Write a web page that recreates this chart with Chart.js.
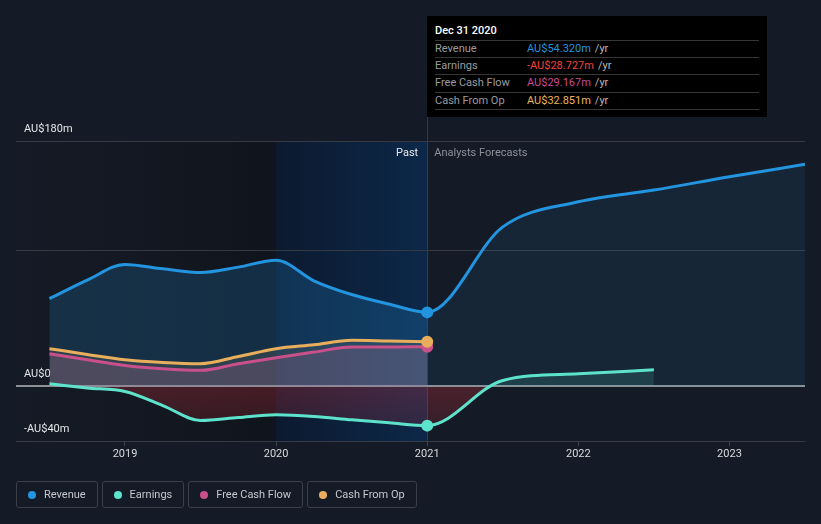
<!DOCTYPE html>
<html><head><meta charset="utf-8">
<script src="https://cdn.jsdelivr.net/npm/chart.js@4/dist/chart.umd.min.js"></script>
<style>
html,body{margin:0;padding:0;background:#151b26;width:821px;height:524px;overflow:hidden;font-family:Roboto,"Noto Sans",sans-serif;}
#wrap{position:relative;width:821px;height:524px;}
canvas{position:absolute;left:0;top:0;}
#tip{position:absolute;left:427px;top:16px;width:324px;padding:8px 8px 7px 8px;background:#000;font-size:11px;line-height:14px;}
#tip .t{color:#fff;font-weight:500;height:14px;margin-bottom:2px;}
#tip .r{border-top:1px solid #363636;height:16.2px;line-height:16.2px;display:flex;}
#tip .r:last-child{border-bottom:1px solid #363636;}
#tip .l{width:92px;color:#9a9ca0;}
#tip .u{color:#b8b8b8;margin-left:4px;}
#legend{position:absolute;left:16px;top:481px;display:flex;gap:4px;}
#legend .b{height:25px;border:1px solid #3a3f49;border-radius:3px;padding:0 11px;display:flex;align-items:center;font-size:11px;color:#c5c8cd;}
#legend .d{width:8px;height:8px;border-radius:50%;margin-right:8px;}
</style></head><body>
<div id="wrap"><canvas id="c" width="821" height="524"></canvas>
<div id="tip"></div><div id="legend"></div></div>
<script>
// ---- data ----
const revenueDates  = [2018.5, 2018.75, 2019.0, 2019.25, 2019.5, 2019.75, 2020.0, 2020.25, 2020.5, 2020.75, 2021.0, 2021.5, 2022.0, 2022.5, 2023.0, 2023.5];
const revenueValues = [64.4, 78.0, 89.5, 86.3, 83.5, 87.5, 92.6, 77.5, 67.4, 60.3, 54.32, 117.0, 135.4, 144.0, 153.8, 162.9];
const earningsDates  = [2018.5, 2018.75, 2019.0, 2019.25, 2019.5, 2019.75, 2020.0, 2020.25, 2020.5, 2020.75, 2021.0, 2021.5, 2022.0, 2022.5];
const earningsValues = [2.0, -1.1, -3.7, -14.0, -25.0, -22.8, -20.8, -22.0, -24.5, -26.7, -28.727, 4.4, 9.3, 12.2];
const cashDates  = [2018.5, 2018.75, 2019.0, 2019.25, 2019.5, 2019.75, 2020.0, 2020.25, 2020.5, 2020.75, 2021.0];
const fcfValues  = [24.0, 19.6, 15.4, 13.0, 11.8, 16.7, 21.1, 25.2, 28.9, 28.9, 29.167];
const cfoValues  = [27.7, 23.5, 19.6, 17.6, 16.7, 22.0, 27.7, 30.6, 33.8, 33.3, 32.851];
const xTicks = [2019, 2020, 2021, 2022, 2023];
const xTickLabels = ['2019', '2020', '2021', '2022', '2023'];
const yTicks = [-40, 0, 100, 180];
const yTickLabels = ['-AU$40m', 'AU$0', '', 'AU$180m'];
const seriesNames = ['Revenue', 'Earnings', 'Free Cash Flow', 'Cash From Op'];
const tipTitle = 'Dec 31 2020';
const tipValues = ['AU$54.320m', '-AU$28.727m', 'AU$29.167m', 'AU$32.851m'];
const tipDate = 2021.0;
const pastBandStart = 2020.0;

const C = {rev:'#2394df', earn:'#5de3cb', fcf:'#c9508a', cfo:'#e8ae5c'};
const tipColors = ['#2394df', '#f4433f', '#cc4a92', '#efb45b'];
const legendColors = [C.rev, C.earn, C.fcf, C.cfo];

const pts = (xs, ys) => xs.map((x, i) => ({x, y: ys[i]}));

// tooltip + legend (HTML text)
const tip = document.getElementById('tip');
let h = '<div class="t">' + tipTitle + '</div>';
seriesNames.forEach((n, i) => {
  h += '<div class="r"><span class="l">' + n + '</span><span style="color:' + tipColors[i] + '">' + tipValues[i] + '</span><span class="u">/yr</span></div>';
});
tip.innerHTML = h;
const lg = document.getElementById('legend');
lg.innerHTML = seriesNames.map((n, i) => '<div class="b"><span class="d" style="background:' + legendColors[i] + '"></span>' + n + '</div>').join('');

Chart.defaults.font.family = 'Roboto, "Noto Sans", sans-serif';
Chart.defaults.font.size = 11;

const ptRadius = ctx => (ctx.raw && ctx.raw.x === tipDate) ? 4.5 : 0;

const bgPlugin = {
  id: 'bg',
  beforeDraw(chart) {
    const {ctx, chartArea: a, scales: {x}} = chart;
    ctx.save();
    ctx.fillStyle = '#151b26';
    ctx.fillRect(0, 0, chart.width, chart.height);
    const x20 = x.getPixelForValue(pastBandStart), x21 = x.getPixelForValue(tipDate);
    let g = ctx.createLinearGradient(a.left, 0, x20, 0);
    g.addColorStop(0, 'rgba(8,10,14,0)');
    g.addColorStop(1, 'rgba(8,10,14,0.4)');
    ctx.fillStyle = g;
    ctx.fillRect(a.left, a.top, x20 - a.left, a.bottom - a.top);
    g = ctx.createLinearGradient(x20, 0, x21, 0);
    g.addColorStop(0, '#0c1a2f');
    g.addColorStop(1, '#0c2849');
    ctx.fillStyle = g;
    ctx.fillRect(x20, a.top, x21 - x20, a.bottom - a.top);
    ctx.strokeStyle = 'rgba(90,120,160,0.35)';
    ctx.lineWidth = 1;
    ctx.beginPath();
    ctx.moveTo(Math.round(x21) + 0.5, 116);
    ctx.lineTo(Math.round(x21) + 0.5, a.bottom);
    ctx.stroke();
    ctx.restore();
  },
  afterDraw(chart) {
    const {ctx, chartArea: a, scales: {x}} = chart;
    const x21 = x.getPixelForValue(tipDate);
    ctx.save();
    ctx.font = '11px Roboto, "Noto Sans", sans-serif';
    ctx.textBaseline = 'middle';
    ctx.textAlign = 'right';
    ctx.fillStyle = '#e8e8e8';
    ctx.fillText('Past', x21 - 9, a.top + 12.5);
    ctx.textAlign = 'left';
    ctx.fillStyle = '#8b9099';
    ctx.fillText('Analysts Forecasts', x21 + 7, a.top + 12.5);
    ctx.restore();
  }
};

const revFill = ctx => {
  const {chart} = ctx;
  const a = chart.chartArea;
  if (!a) return 'rgba(35,148,223,0.15)';
  const xs = chart.scales.x;
  const f = Math.min(1, Math.max(0, (xs.getPixelForValue(tipDate) - a.left) / (a.right - a.left)));
  const g = chart.ctx.createLinearGradient(a.left, 0, a.right, 0);
  g.addColorStop(0, 'rgba(35,148,223,0.18)');
  g.addColorStop(f, 'rgba(35,148,223,0.22)');
  g.addColorStop(Math.min(1, f + 0.0005), 'rgba(35,148,223,0.09)');
  g.addColorStop(1, 'rgba(35,148,223,0.09)');
  return g;
};
const earnBelow = ctx => {
  const {chart} = ctx;
  const a = chart.chartArea;
  if (!a) return 'rgba(220,50,60,0.22)';
  const ys = chart.scales.y;
  const g = chart.ctx.createLinearGradient(0, ys.getPixelForValue(0), 0, a.bottom);
  g.addColorStop(0, 'rgba(225,50,60,0.26)');
  g.addColorStop(1, 'rgba(225,50,60,0.12)');
  return g;
};

new Chart(document.getElementById('c'), {
  type: 'line',
  data: {
    datasets: [
      {label: seriesNames[0], data: pts(revenueDates, revenueValues), borderColor: C.rev, borderWidth: 3,
       fill: 'origin', backgroundColor: revFill, pointBackgroundColor: C.rev},
      {label: seriesNames[1], data: pts(earningsDates, earningsValues), borderColor: C.earn, borderWidth: 3,
       fill: {target: 'origin', above: 'rgba(88,230,201,0.14)', below: earnBelow}, pointBackgroundColor: C.earn},
      {label: seriesNames[3], data: pts(cashDates, cfoValues), borderColor: C.cfo, borderWidth: 3,
       fill: 'origin', backgroundColor: 'rgba(232,176,90,0.14)', pointBackgroundColor: C.cfo},
      {label: seriesNames[2], data: pts(cashDates, fcfValues), borderColor: C.fcf, borderWidth: 3,
       fill: 'origin', backgroundColor: 'rgba(201,80,138,0.24)', pointBackgroundColor: C.fcf}
    ]
  },
  options: {
    responsive: false,
    animation: false,
    events: [],
    devicePixelRatio: 1,
    layout: {padding: {left: 16, right: 16, top: 141, bottom: 43}},
    elements: {
      line: {cubicInterpolationMode: 'monotone', capBezierPoints: true},
      point: {radius: ptRadius, hoverRadius: ptRadius, borderColor: 'rgba(235,240,248,0.9)', borderWidth: 1.2}
    },
    plugins: {legend: {display: false}, tooltip: {enabled: false}, filler: {drawTime: 'beforeDatasetsDraw'}},
    scales: {
      x: {
        type: 'linear', min: 2018.2787, max: 2023.5,
        afterBuildTicks: s => { s.ticks = xTicks.map(v => ({value: v})); },
        afterFit: s => { s.height = 40; },
        ticks: {callback: (v, i) => xTickLabels[i], color: '#d9dbde', padding: 2, maxRotation: 0, font: {size: 11}},
        grid: {drawOnChartArea: false, drawTicks: true, tickLength: 5, color: '#3d424c'},
        border: {display: false}
      },
      y: {
        type: 'linear', min: -40, max: 180,
        afterBuildTicks: s => { s.ticks = yTicks.map(v => ({value: v})); },
        afterFit: s => { s.width = 0; },
        ticks: {callback: (v, i) => yTickLabels[i], mirror: true, padding: 8, labelOffset: -12, color: '#e4e6e9', font: {size: 11}},
        grid: {drawTicks: false, color: c => c.tick && c.tick.value === 0 ? '#8e9095' : '#353a44',
               lineWidth: c => c.tick && c.tick.value === 0 ? 2 : 1},
        border: {display: false}
      }
    }
  },
  plugins: [bgPlugin]
});
</script>
</body></html>
